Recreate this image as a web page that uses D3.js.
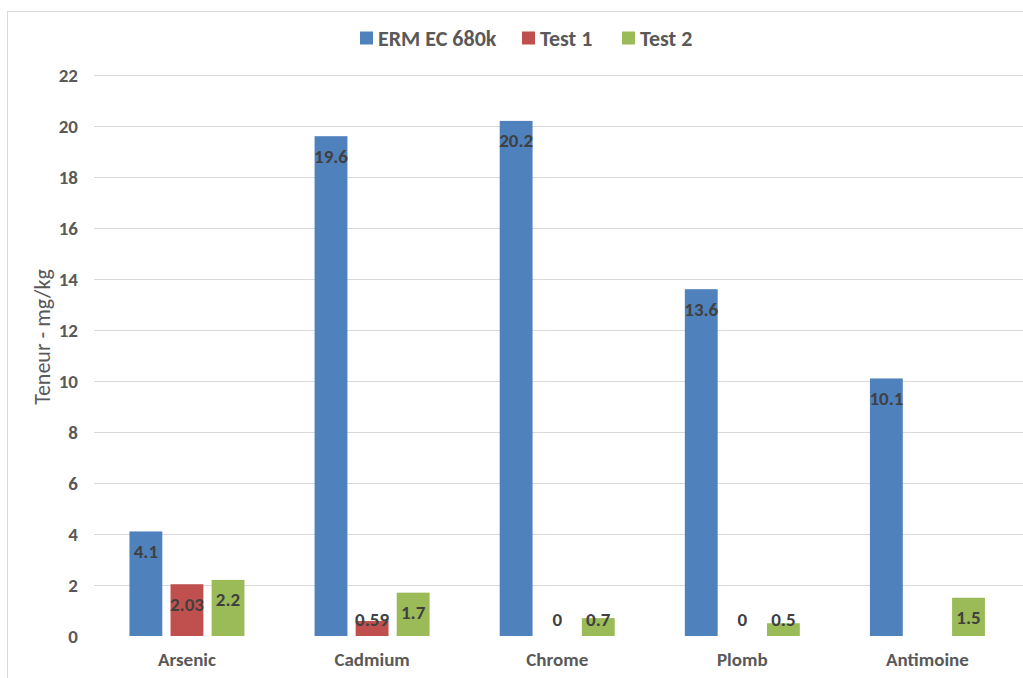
<!DOCTYPE html>
<html><head><meta charset="utf-8">
<script src="https://cdn.jsdelivr.net/npm/d3@7"></script>
<style>body{margin:0;background:#fff}svg{display:block}</style>
</head><body>
<svg id="c" width="1023" height="678"></svg>
<script>
const categories = ["Arsenic","Cadmium","Chrome","Plomb","Antimoine"];
const seriesNames = ["ERM EC 680k","Test 1","Test 2"];
const ermValues = [4.1, 19.6, 20.2, 13.6, 10.1];
const test1Values = [2.03, 0.59, 0, 0, null];
const test2Values = [2.2, 1.7, 0.7, 0.5, 1.5];
const yTicks = [0,2,4,6,8,10,12,14,16,18,20,22];
const colors = ["#4f81bd","#c0504d","#9bbb59"];

const seriesValues = [ermValues, test1Values, test2Values];
const svg = d3.select("#c");
const font = "Calibri, Carlito, Lato, 'Liberation Sans', Arial, sans-serif";

// chart border
svg.append("rect").attr("x",7.5).attr("y",11.5).attr("width",1030).attr("height",700)
  .attr("fill","none").attr("stroke","#d9d9d9");

const x = d3.scaleBand().domain(categories).range([94.4,1020]).paddingInner(0).paddingOuter(0);
const x1 = d3.scaleBand().domain(seriesNames).range([0,115]).paddingInner(0.2).paddingOuter(0);
const y = d3.scaleLinear().domain([0,22]).range([636,75]);
const groupOffset = (x.bandwidth()-115)/2;

// gridlines
svg.append("g").selectAll("line").data(yTicks.filter(t=>t>0)).join("line")
  .attr("x1",94).attr("x2",1023).attr("y1",d=>Math.round(y(d))+0.5).attr("y2",d=>Math.round(y(d))+0.5)
  .attr("stroke","#d9d9d9").attr("stroke-width",1);

// y axis labels
const yAxis = d3.axisLeft(y).tickValues(yTicks).tickSize(0).tickPadding(0).tickFormat(d3.format("d"));
const ya = svg.append("g").attr("transform","translate(78,0)").call(yAxis);
ya.select(".domain").remove();
ya.selectAll("text").attr("font-family",font).attr("font-size",19).attr("font-weight","bold").attr("fill","#595959");

// x axis labels
const xAxis = d3.axisBottom(x).tickSize(0).tickPadding(0);
const xa = svg.append("g").attr("transform","translate(0,652)").call(xAxis);
xa.select(".domain").remove();
xa.selectAll("text").attr("font-family",font).attr("font-size",19).attr("font-weight","bold").attr("fill","#595959");

// bars
const data = [];
categories.forEach((c,i)=>seriesNames.forEach((s,j)=>{
  const v = seriesValues[j][i];
  if (v !== null) data.push({c,s,v,j});
}));
svg.append("g").selectAll("rect").data(data).join("rect")
  .attr("x",d=>x(d.c)+groupOffset+x1(d.s))
  .attr("width",x1.bandwidth())
  .attr("y",d=>y(d.v))
  .attr("height",d=>y(0)-y(d.v))
  .attr("fill",d=>colors[d.j]);

// labels
svg.append("g").selectAll("text").data(data).join("text")
  .attr("x",d=>x(d.c)+groupOffset+x1(d.s)+x1.bandwidth()/2)
  .attr("y",d=>Math.min(y(d.v)+20,619))
  .attr("text-anchor","middle").attr("dominant-baseline","central")
  .attr("font-family",font).attr("font-size",19).attr("font-weight","bold").attr("fill","#404040")
  .text(d=>String(d.v));

// y title
svg.append("text").attr("transform","translate(42,337) rotate(-90)")
  .attr("text-anchor","middle").attr("dominant-baseline","central")
  .attr("font-family",font).attr("font-size",22).attr("fill","#595959")
  .text("Teneur - mg/kg");

// legend
const legendX = [360,522,622];
const lg = svg.append("g").selectAll("g").data(seriesNames).join("g")
  .attr("transform",(d,i)=>`translate(${legendX[i]},38)`);
lg.append("rect").attr("x",0).attr("y",-6.5).attr("width",13).attr("height",13).attr("fill",(d,i)=>colors[i]);
lg.append("text").attr("x",18).attr("y",0).attr("dominant-baseline","central")
  .attr("font-family",font).attr("font-size",22).attr("font-weight","bold").attr("fill","#595959")
  .text(d=>d);
</script>
</body></html>
